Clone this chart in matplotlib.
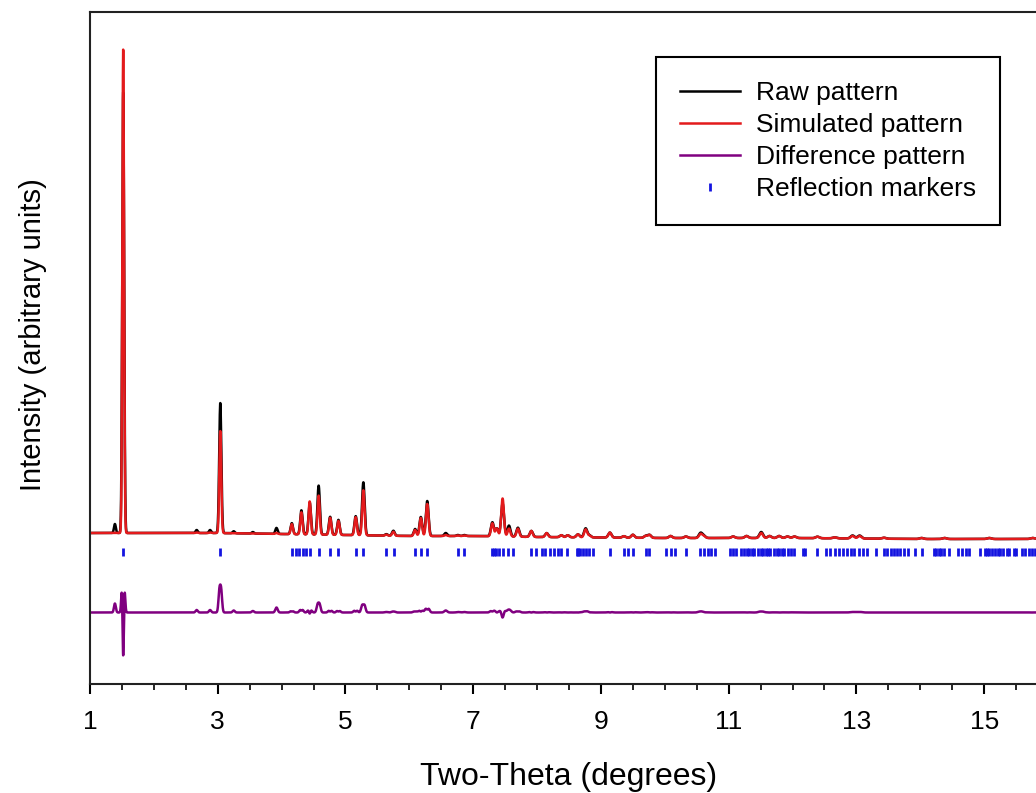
import numpy as np
import matplotlib.pyplot as plt
from matplotlib.ticker import MultipleLocator

plt.rcParams['font.family'] = ['Liberation Sans', 'DejaVu Sans']

# --- peak table (two-theta, height above background) ---
peak_pos = [1.39, 1.52, 2.67, 2.88, 3.04, 3.25, 3.55, 3.92, 4.16, 4.31, 4.44, 4.58,
            4.76, 4.89, 5.16, 5.28, 5.64, 5.75, 6.09, 6.18, 6.28, 6.57, 6.76, 6.86,
            7.30, 7.37, 7.46, 7.56, 7.70, 7.91, 8.15, 8.38, 8.48, 8.64, 8.76, 8.82,
            9.14, 9.36, 9.50, 9.70, 9.76, 10.09, 10.33, 10.56, 10.61, 11.07, 11.28,
            11.51, 11.64, 11.79, 11.92, 12.03, 12.39, 12.66, 12.94, 13.05, 13.43,
            14.02, 14.38, 15.08, 15.76]
sim_height = [0, 484, 0.5, 0.5, 102, 0, 0, 1, 10, 22, 33, 39,
              17, 14, 18, 45, 1, 4, 6, 18, 32, 1, 0.5, 0.5,
              13, 8, 38, 8, 8, 6, 4, 2, 2, 3, 8, 2,
              5, 1.5, 3, 2, 3, 2, 1.5, 4, 2, 1.5, 2,
              5, 2, 2, 1.5, 1.5, 1.5, 1, 2.5, 2.5, 1,
              1, 1, 1, 1]
raw_height = [9, 441, 3, 3, 130, 2, 1.5, 6, 11, 24, 32, 49,
              18, 15, 19, 53, 1.5, 5, 7, 19, 35, 3, 1, 1,
              14, 8, 33, 11, 9, 6, 4, 2, 2, 3, 9, 2,
              5, 1.5, 3, 2, 3, 2, 1.5, 5, 2, 1.5, 2,
              6, 2, 2, 1.5, 1.5, 1.5, 1, 3, 3, 1,
              1, 1, 1, 1]

# background under the pattern
bg_pos = [1, 2, 3, 4, 5, 6, 7, 8, 10, 12, 14, 16.5]
bg_val = [151, 151, 151, 150, 149, 148, 148, 147, 146, 146, 145, 145]

# reflection marker positions
refl_pos = [1.52, 3.04, 4.16, 4.22, 4.28, 4.33, 4.38, 4.44, 4.58, 4.76, 4.89, 5.16, 5.28,
            5.63, 5.76, 6.09, 6.18, 6.28, 6.76, 6.86, 7.30, 7.33, 7.35, 7.41, 7.47,
            7.55, 7.62, 7.91, 7.99, 8.07, 8.13, 8.20, 8.26, 8.33, 8.38, 8.47, 8.62,
            8.64, 8.67, 8.72, 8.77, 8.82, 8.87, 9.14, 9.36, 9.42, 9.50, 9.70, 9.76,
            10.02, 10.09, 10.16, 10.33, 10.55, 10.61, 10.67, 10.72, 10.78, 11.02,
            11.07, 11.12, 11.20, 11.24, 11.28, 11.32, 11.36, 11.39, 11.46, 11.50,
            11.54, 11.58, 11.62, 11.65, 11.71, 11.75, 11.79, 11.83, 11.86, 11.93,
            11.98, 12.03, 12.17, 12.20, 12.38, 12.52, 12.59, 12.66, 12.73, 12.79,
            12.85, 12.91, 12.97, 13.04, 13.10, 13.16, 13.31, 13.43, 13.48, 13.54,
            13.59, 13.64, 13.69, 13.74, 13.81, 13.92, 14.02, 14.21, 14.24, 14.29,
            14.33, 14.37, 14.45, 14.59, 14.66, 14.71, 14.77, 14.94, 15.02, 15.05,
            15.08, 15.12, 15.17, 15.22, 15.25, 15.30, 15.36, 15.39, 15.46, 15.50,
            15.59, 15.64, 15.70, 15.75, 15.79]

refl_level = 132   # height of the marker row
diff_level = 71.5  # offset of the difference curve


def pattern(x, heights, broad=1.0):
    y = np.interp(x, bg_pos, bg_val)
    for p, h in zip(peak_pos, heights):
        s = broad * (0.027 + 0.003 * p) / 2.355
        y = y + h * np.exp(-0.5 * ((x - p) / s) ** 2)
    return y


tt = np.linspace(1, 16.5, 8000)
y_raw = pattern(tt, raw_height, broad=1.1)
y_sim = pattern(tt, sim_height)
y_diff = y_raw - y_sim + diff_level

fig = plt.figure(figsize=(10.36, 7.93), dpi=100)
ax = fig.add_axes([90 / 1036, 1 - 684 / 793, 958 / 1036, 672 / 793])

ax.plot(tt, y_raw, color='black', lw=1.8, label='Raw pattern')
ax.plot(tt, y_sim, color='#e31a1c', lw=1.8, label='Simulated pattern')
ax.plot(tt, y_diff, color='#800080', lw=1.8, label='Difference pattern')
ax.plot(refl_pos, [refl_level] * len(refl_pos), ls='none', marker='|',
        ms=6, mew=2, color='#1414e0', label='Reflection markers')

ax.set_xlim(1, 16)
ax.set_ylim(0, 672)
ax.set_xticks(range(1, 16, 2))
ax.xaxis.set_minor_locator(MultipleLocator(0.5))
ax.set_yticks([])
ax.tick_params(axis='x', which='major', direction='out', length=7, width=1.5,
               labelsize=19, pad=12)
ax.tick_params(axis='x', which='minor', direction='out', length=4.3, width=1.2)
for sp in ax.spines.values():
    sp.set_linewidth(1.5)
    sp.set_color('#222222')

ax.set_xlabel('Two-Theta (degrees)', fontsize=23, labelpad=20)
ax.set_ylabel('Intensity (arbitrary units)', fontsize=21)
ax.yaxis.set_label_coords(-0.045, 0.52)

leg = ax.legend(loc='upper left', bbox_to_anchor=(656 / 1036, 1 - 57 / 793),
                bbox_transform=fig.transFigure, fontsize=19, frameon=True,
                fancybox=False, edgecolor='black', framealpha=1, numpoints=1,
                handlelength=2.3, handletextpad=0.6, labelspacing=0.31,
                borderpad=0.9, borderaxespad=0)
leg.get_frame().set_linewidth(1.5)

fig.savefig('out.png', dpi=100)
